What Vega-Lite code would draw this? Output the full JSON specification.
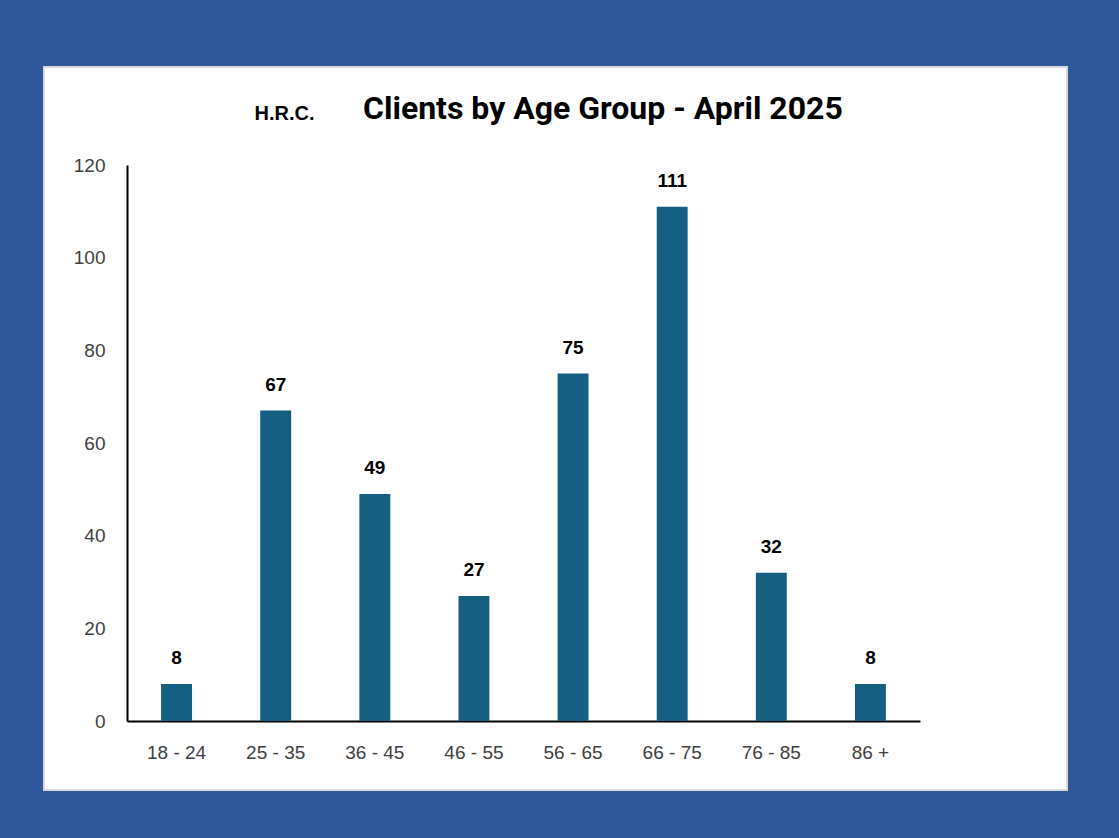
{
  "$schema": "https://vega.github.io/schema/vega-lite/v6.json",
  "autosize": {"type": "none"},
  "width": 1023,
  "height": 723,
  "padding": {"left": 44, "top": 67, "right": 52, "bottom": 48},
  "background": "#2E5899",
  "title": {
    "text": "Clients by Age Group - April 2025",
    "anchor": "start",
    "frame": "group",
    "orient": "top",
    "offset": 0,
    "dx": 319,
    "dy": 84,
    "baseline": "alphabetic",
    "font": "Roboto",
    "fontSize": 32,
    "fontWeight": "bold",
    "color": "#000000"
  },
  "data": {
    "values": [
      {"age": "18 - 24", "clients": 8},
      {"age": "25 - 35", "clients": 67},
      {"age": "36 - 45", "clients": 49},
      {"age": "46 - 55", "clients": 27},
      {"age": "56 - 65", "clients": 75},
      {"age": "66 - 75", "clients": 111},
      {"age": "76 - 85", "clients": 32},
      {"age": "86 +", "clients": 8}
    ]
  },
  "encoding": {
    "x": {
      "field": "age",
      "type": "nominal",
      "sort": null,
      "scale": {"range": [83, 876], "paddingInner": 0.688, "paddingOuter": 0.344},
      "axis": {
        "title": null,
        "orient": "bottom",
        "offset": -69,
        "labelAngle": 0,
        "ticks": false,
        "domainColor": "#000000",
        "domainWidth": 2,
        "labelFont": "Liberation Sans",
        "labelFontSize": 19,
        "labelColor": "#404040",
        "labelPadding": 22,
        "grid": false
      }
    },
    "y": {
      "field": "clients",
      "type": "quantitative",
      "scale": {"domain": [0, 120], "range": [654, 98], "nice": false},
      "axis": {
        "values": [0, 20, 40, 60, 80, 100, 120],
        "offset": -83,
        "ticks": false,
        "grid": false,
        "domainColor": "#000000",
        "domainWidth": 2,
        "labelFont": "Liberation Sans",
        "labelFontSize": 19,
        "labelColor": "#404040",
        "labelPadding": 22,
        "title": "H.R.C.",
        "titleAngle": 0,
        "titleX": 157,
        "titleY": 52,
        "titleAlign": "center",
        "titleBaseline": "alphabetic",
        "titleFont": "Liberation Sans",
        "titleFontSize": 20,
        "titleFontWeight": "bold",
        "titleColor": "#000000"
      }
    }
  },
  "layer": [
    {"mark": {"type": "bar", "color": "#156082"}},
    {
      "mark": {
        "type": "text",
        "baseline": "alphabetic",
        "dy": -20,
        "font": "Liberation Sans",
        "fontSize": 19,
        "fontWeight": "bold",
        "color": "#000000"
      },
      "encoding": {"text": {"field": "clients", "type": "quantitative"}}
    }
  ],
  "config": {
    "view": {"fill": "#FFFFFF", "stroke": "#D9D9D9", "strokeWidth": 2}
  }
}
